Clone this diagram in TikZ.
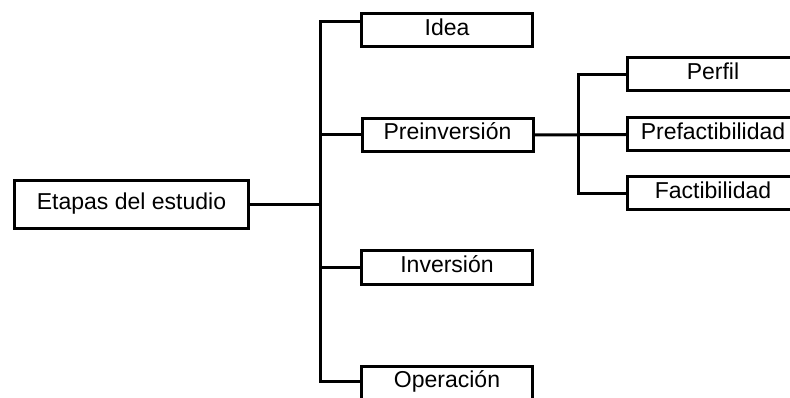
\documentclass[tikz,border=0pt]{standalone}
\usepackage{fontspec}
\setmainfont{Liberation Sans}
\begin{document}
\begin{tikzpicture}[x=1pt,y=-1pt,
  box/.style={draw,line width=3pt,rectangle,inner sep=0pt,minimum width=171pt,minimum height=33pt,
    font=\fontsize{23}{27}\selectfont,text height=16.5pt,text depth=7pt},
  link/.style={line width=3pt}]
\useasboundingbox (0,0) rectangle (790,398);
\clip (0,0) rectangle (790,398);
\node[box,minimum width=234pt,minimum height=48pt] (etapas) at (131.5,204.5) {Etapas del estudio};
\node[box] (idea) at (447,30.5) {Idea};
\node[box] (prein) at (447.5,135) {Preinversión};
\node[box] (inv) at (447,267.5) {Inversión};
\node[box] (oper) at (447,382.5) {Operación};
\node[box] (perfil) at (713,74.5) {Perfil};
\node[box] (pref) at (713,134.5) {Prefactibilidad};
\node[box] (fact) at (713,193.5) {Factibilidad};
\coordinate (ttop) at (320,22);
\coordinate (tbot) at (320,381);
\coordinate (stop) at (578,74.5);
\coordinate (sbot) at (578,193.5);
\draw[link] (idea.west |- ttop) -- (ttop) -- (tbot) -- (oper.west |- tbot);
\draw[link] (etapas.east) -- (etapas.east -| ttop);
\draw[link] (prein.west -| ttop) -- (prein.west);
\draw[link] (inv.west -| ttop) -- (inv.west);
\draw[link] (perfil.west) -- (stop) -- (sbot) -- (fact.west);
\draw[link] (prein.east) -- (pref.west);
\end{tikzpicture}
\end{document}
